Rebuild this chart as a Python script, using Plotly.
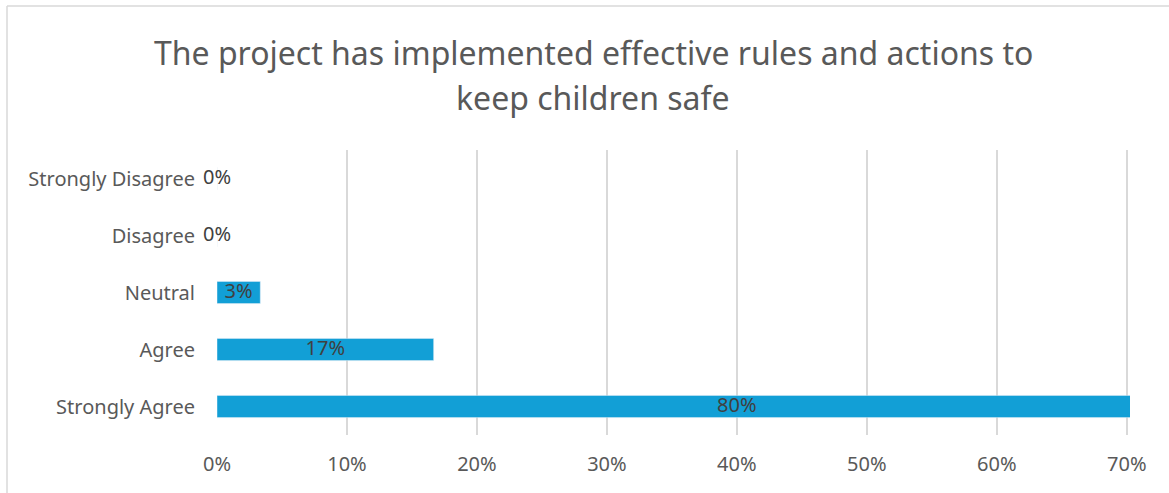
import plotly.graph_objects as go

categories = ["Strongly Agree", "Agree", "Neutral", "Disagree", "Strongly Disagree"]
values = [0.80, 0.1667, 0.0333, 0.0, 0.0]
labels = ["80%", "17%", "3%", "0%", "0%"]
x_ticks = [0, 0.1, 0.2, 0.3, 0.4, 0.5, 0.6, 0.7]
x_tick_text = ["0%", "10%", "20%", "30%", "40%", "50%", "60%", "70%"]
title_lines = ["The project has implemented effective rules and actions to",
               "keep children safe"]

FONT = "Noto Sans"
W, H = 1169, 493
L, R, T, B = 217, 39, 150, 58
pw = W - L - R
ph = H - T - B

fig = go.Figure()
fig.add_trace(go.Bar(
    y=categories, x=values, orientation="h",
    marker=dict(color="#129fd6"), width=0.39,
    hoverinfo="skip", showlegend=False,
))
fig.add_trace(go.Scatter(
    y=categories, x=[v / 2 for v in values], text=labels,
    mode="text", textposition="middle center",
    textfont=dict(family=FONT, size=20, color="#404040"),
    cliponaxis=False, showlegend=False, hoverinfo="skip",
))

def px_x(p):
    return (p - L) / pw

def px_y(p):
    return 1 - (p - T) / ph

annotations = [
    dict(text=line, xref="paper", yref="paper", x=px_x(593), y=px_y(yc),
         xanchor="center", yanchor="middle", showarrow=False,
         font=dict(family=FONT, size=32, color="#595959"))
    for line, yc in zip(title_lines, [52, 98])
]

fig.update_layout(
    width=W, height=H,
    margin=dict(l=L, r=R, t=T, b=B),
    paper_bgcolor="white", plot_bgcolor="white",
    annotations=annotations,
    xaxis=dict(range=[0, 0.7025], tickvals=x_ticks, ticktext=x_tick_text,
               showgrid=True, gridcolor="#d9d9d9", gridwidth=1.5,
               zeroline=False, showline=False, ticks="",
               ticklabelstandoff=15,
               tickfont=dict(family=FONT, size=20, color="#595959")),
    yaxis=dict(categoryorder="array", categoryarray=categories,
               showgrid=False, zeroline=False, showline=False, ticks="",
               ticklabelstandoff=21,
               tickfont=dict(family=FONT, size=20, color="#595959")),
    shapes=[
        dict(type="line", xref="paper", yref="paper",
             x0=px_x(7), x1=px_x(7), y0=px_y(6), y1=px_y(520),
             line=dict(color="#d9d9d9", width=1.5)),
        dict(type="line", xref="paper", yref="paper",
             x0=px_x(7), x1=px_x(1200), y0=px_y(6), y1=px_y(6),
             line=dict(color="#d9d9d9", width=1.5)),
    ],
)

fig.write_html("out.html")
